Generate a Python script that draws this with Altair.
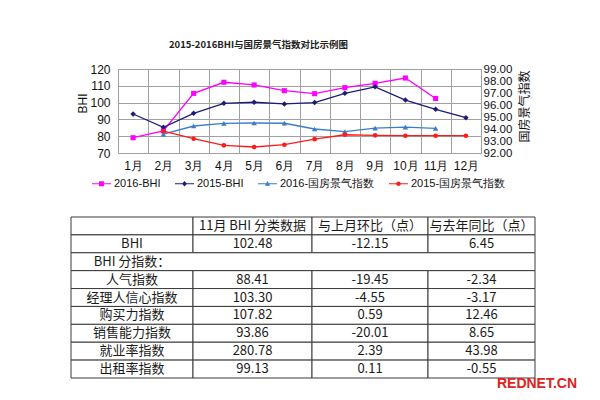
import altair as alt
import pandas as pd

# ---------------- data ----------------
months = ["1月", "2月", "3月", "4月", "5月", "6月", "7月", "8月", "9月", "10月", "11月", "12月"]
series_names = ["2016-BHI", "2015-BHI", "2016-国房景气指数", "2015-国房景气指数"]

bhi_2016 = [79.1, 83.2, 105.5, 112.1, 110.5, 107.1, 105.3, 108.9, 111.5, 114.63, 102.48, None]
bhi_2015 = [93.2, 85.3, 93.6, 99.6, 100.2, 99.2, 100.0, 105.5, 109.4, 101.5, 96.03, 91.0]
gf_2016 = [None, 93.58, 94.25, 94.47, 94.5, 94.48, 94.0, 93.78, 94.08, 94.15, 94.05, None]
gf_2015 = [None, 93.83, 93.19, 92.64, 92.5, 92.69, 93.15, 93.52, 93.47, 93.44, 93.44, 93.44]

table_header = ["", "11月 BHI 分类数据", "与上月环比（点）", "与去年同比（点）"]
row_labels = ["BHI", "BHI 分指数：", "人气指数", "经理人信心指数", "购买力指数",
              "销售能力指数", "就业率指数", "出租率指数"]
nov_values = [102.48, None, 88.41, 103.30, 107.82, 93.86, 280.78, 99.13]
mom_change = [-12.15, None, -19.45, -4.55, 0.59, -20.01, 2.39, 0.11]
yoy_change = [6.45, None, -2.34, -3.17, 12.46, 8.65, 43.98, -0.55]

watermark_texts = ["REDNET.CN"]

# ---------------- styles / layout ----------------
series_colors = ["#ff00ff", "#1c1c78", "#3a7ec8", "#ff1a1a"]
marker_shapes = ["square", "diamond", "triangle-up", "circle"]
marker_sizes = [26, 30, 30, 22]
legend_paths = [
    "M-1,-0.06H1V0.06H-1Z M-0.26,-0.26H0.26V0.26H-0.26Z",
    "M-1,-0.06H1V0.06H-1Z M0,-0.3L0.26,0L0,0.3L-0.26,0Z",
    "M-1,-0.06H1V0.06H-1Z M0,-0.3L0.28,0.22L-0.28,0.22Z",
    "M-1,-0.06H1V0.06H-1Z M-0.24,0A0.24,0.24,0,1,1,0.24,0A0.24,0.24,0,1,1,-0.24,0Z",
]
col_edges = [0, 122, 241, 357, 464]     # relative column widths of the table
grid_color = "#a0a0a0"
latin_font = "Liberation Sans"
cjk_font = "Noto Sans CJK SC"


def long_form(name, arr):
    return pd.DataFrame([{"month": m, "series": name, "value": v}
                         for m, v in zip(months, arr) if v is not None])


x_enc = alt.X(
    "month:N", sort=months,
    scale=alt.Scale(type="band", domain=months, paddingInner=0, paddingOuter=0),
    axis=alt.Axis(title=None, labelAngle=0, tickBand="extent", grid=True, gridColor=grid_color,
                  gridOpacity=1, ticks=False, domain=False, labelFontSize=12, labelFont=latin_font,
                  labelColor="#111", labelPadding=7),
)

y_left = alt.Y(
    "value:Q",
    scale=alt.Scale(domain=[70, 120], nice=False, zero=False),
    axis=alt.Axis(title="BHI", orient="left", values=list(range(70, 121, 10)), grid=True,
                  gridColor=grid_color, gridOpacity=1, domain=False, ticks=False,
                  labelFontSize=12, labelFont=latin_font, labelColor="#111", labelPadding=8,
                  labelOverlap=False,
                  titleFont=latin_font, titleFontSize=12, titleFontWeight="normal",
                  titleColor="#111", titleAngle=270, titleX=-36, titleY=34,
                  titleAlign="center", titleBaseline="middle"),
)

y_right = alt.Y(
    "value:Q",
    scale=alt.Scale(domain=[92, 99], nice=False, zero=False),
    axis=alt.Axis(title="国房景气指数", orient="right", values=list(range(92, 100)), format=".2f",
                  grid=False, domain=False, ticks=False, labelOverlap=False,
                  labelFontSize=11.5, labelFont=latin_font, labelColor="#111", labelPadding=2,
                  titleFont=cjk_font, titleFontSize=12, titleFontWeight="normal",
                  titleColor="#111", titleAngle=270, titleX=43, titleY=37,
                  titleAlign="center", titleBaseline="middle"),
)


def series_layers(i, arr, y_enc):
    df = long_form(series_names[i], arr)
    line = alt.Chart(df).mark_line(strokeWidth=1.3, color=series_colors[i]).encode(x=x_enc, y=y_enc)
    pts = alt.Chart(df).mark_point(shape=marker_shapes[i], filled=True, size=marker_sizes[i],
                                   opacity=1, color=series_colors[i]).encode(x=x_enc, y=y_enc)
    return [line, pts]


legend_props = dict(title=None, orient="none", legendX=-26, legendY=105, direction="horizontal",
                    symbolSize=361, symbolStrokeWidth=0, labelFontSize=11,
                    labelFont=latin_font, labelColor="#111", labelOffset=3, columnPadding=14)

legend_layer = alt.Chart(pd.DataFrame({"series": series_names})).transform_filter(
    "false").mark_point(filled=True, opacity=1).encode(
    color=alt.Color("series:N", scale=alt.Scale(domain=series_names, range=series_colors),
                    legend=alt.Legend(**legend_props)),
    shape=alt.Shape("series:N", scale=alt.Scale(domain=series_names, range=legend_paths),
                    legend=alt.Legend(**legend_props)),
)

left = alt.layer(*series_layers(0, bhi_2016, y_left), *series_layers(1, bhi_2015, y_left),
                 legend_layer)
right = alt.layer(*series_layers(2, gf_2016, y_right), *series_layers(3, gf_2015, y_right))
dual = alt.layer(left, right).resolve_scale(y="independent")

# ---------------- table ----------------
cells = []
texts = []
for j in range(4):
    cells.append({"x0": col_edges[j], "x1": col_edges[j + 1], "r0": 0, "r1": 1})
    texts.append({"xt": (col_edges[j] + col_edges[j + 1]) / 2, "rc": 0.5, "text": table_header[j]})
for i, label in enumerate(row_labels):
    r = i + 1
    if nov_values[i] is None:
        cells.append({"x0": col_edges[0], "x1": col_edges[4], "r0": r, "r1": r + 1})
        texts.append({"xt": (col_edges[0] + col_edges[1]) / 2, "rc": r + 0.5, "text": label})
        continue
    vals = [label, f"{nov_values[i]:.2f}", f"{mom_change[i]:.2f}", f"{yoy_change[i]:.2f}"]
    for j in range(4):
        cells.append({"x0": col_edges[j], "x1": col_edges[j + 1], "r0": r, "r1": r + 1})
        texts.append({"xt": (col_edges[j] + col_edges[j + 1]) / 2, "rc": r + 0.5, "text": vals[j]})
cells_df = pd.DataFrame(cells)
texts_df = pd.DataFrame(texts)

n_rows = len(row_labels) + 1
tx_scale = alt.Scale(domain=[0, col_edges[-1]], range=[-47, 417], nice=False, zero=False)
ty_scale = alt.Scale(domain=[0, n_rows], range=[148, 309], nice=False, zero=False)

table_rects = alt.Chart(cells_df).mark_rect(fill="white", stroke="#3a3a3a", strokeWidth=1).encode(
    x=alt.X("x0:Q", scale=tx_scale, axis=None), x2="x1:Q",
    y=alt.Y("r0:Q", scale=ty_scale, axis=None), y2="r1:Q",
)
table_texts = alt.Chart(texts_df).mark_text(font=cjk_font, fontSize=13, color="#1a1a1a").encode(
    x=alt.X("xt:Q", scale=tx_scale, axis=None),
    y=alt.Y("rc:Q", scale=ty_scale, axis=None),
    text="text:N",
)

wm_df = pd.DataFrame({"text": watermark_texts, "xt": [466], "rc": [9.35]})
wm_small = alt.Chart(wm_df).mark_text(
    font=latin_font, fontSize=14, fontWeight="bold", color="#e0211d"
).encode(x=alt.X("xt:Q", scale=tx_scale, axis=None), y=alt.Y("rc:Q", scale=ty_scale, axis=None),
         text="text:N")

chart = alt.layer(dual, table_rects, table_texts, wm_small).resolve_scale(
    x="independent", y="independent"
).properties(
    width=363, height=84,
    title=alt.TitleParams("2015-2016BHI与国房景气指数对比示例图", anchor="middle", frame="group",
                          dx=-41, offset=14, fontSize=9.5, font=cjk_font, fontWeight="bold",
                          color="#222"),
    autosize=alt.AutoSizeParams(type="none"),
    padding={"left": 110, "top": 61, "right": 111, "bottom": 239},
).configure_view(stroke=None).configure(background="white")

chart.save("out.html", embed_options={"renderer": "svg", "actions": False})
